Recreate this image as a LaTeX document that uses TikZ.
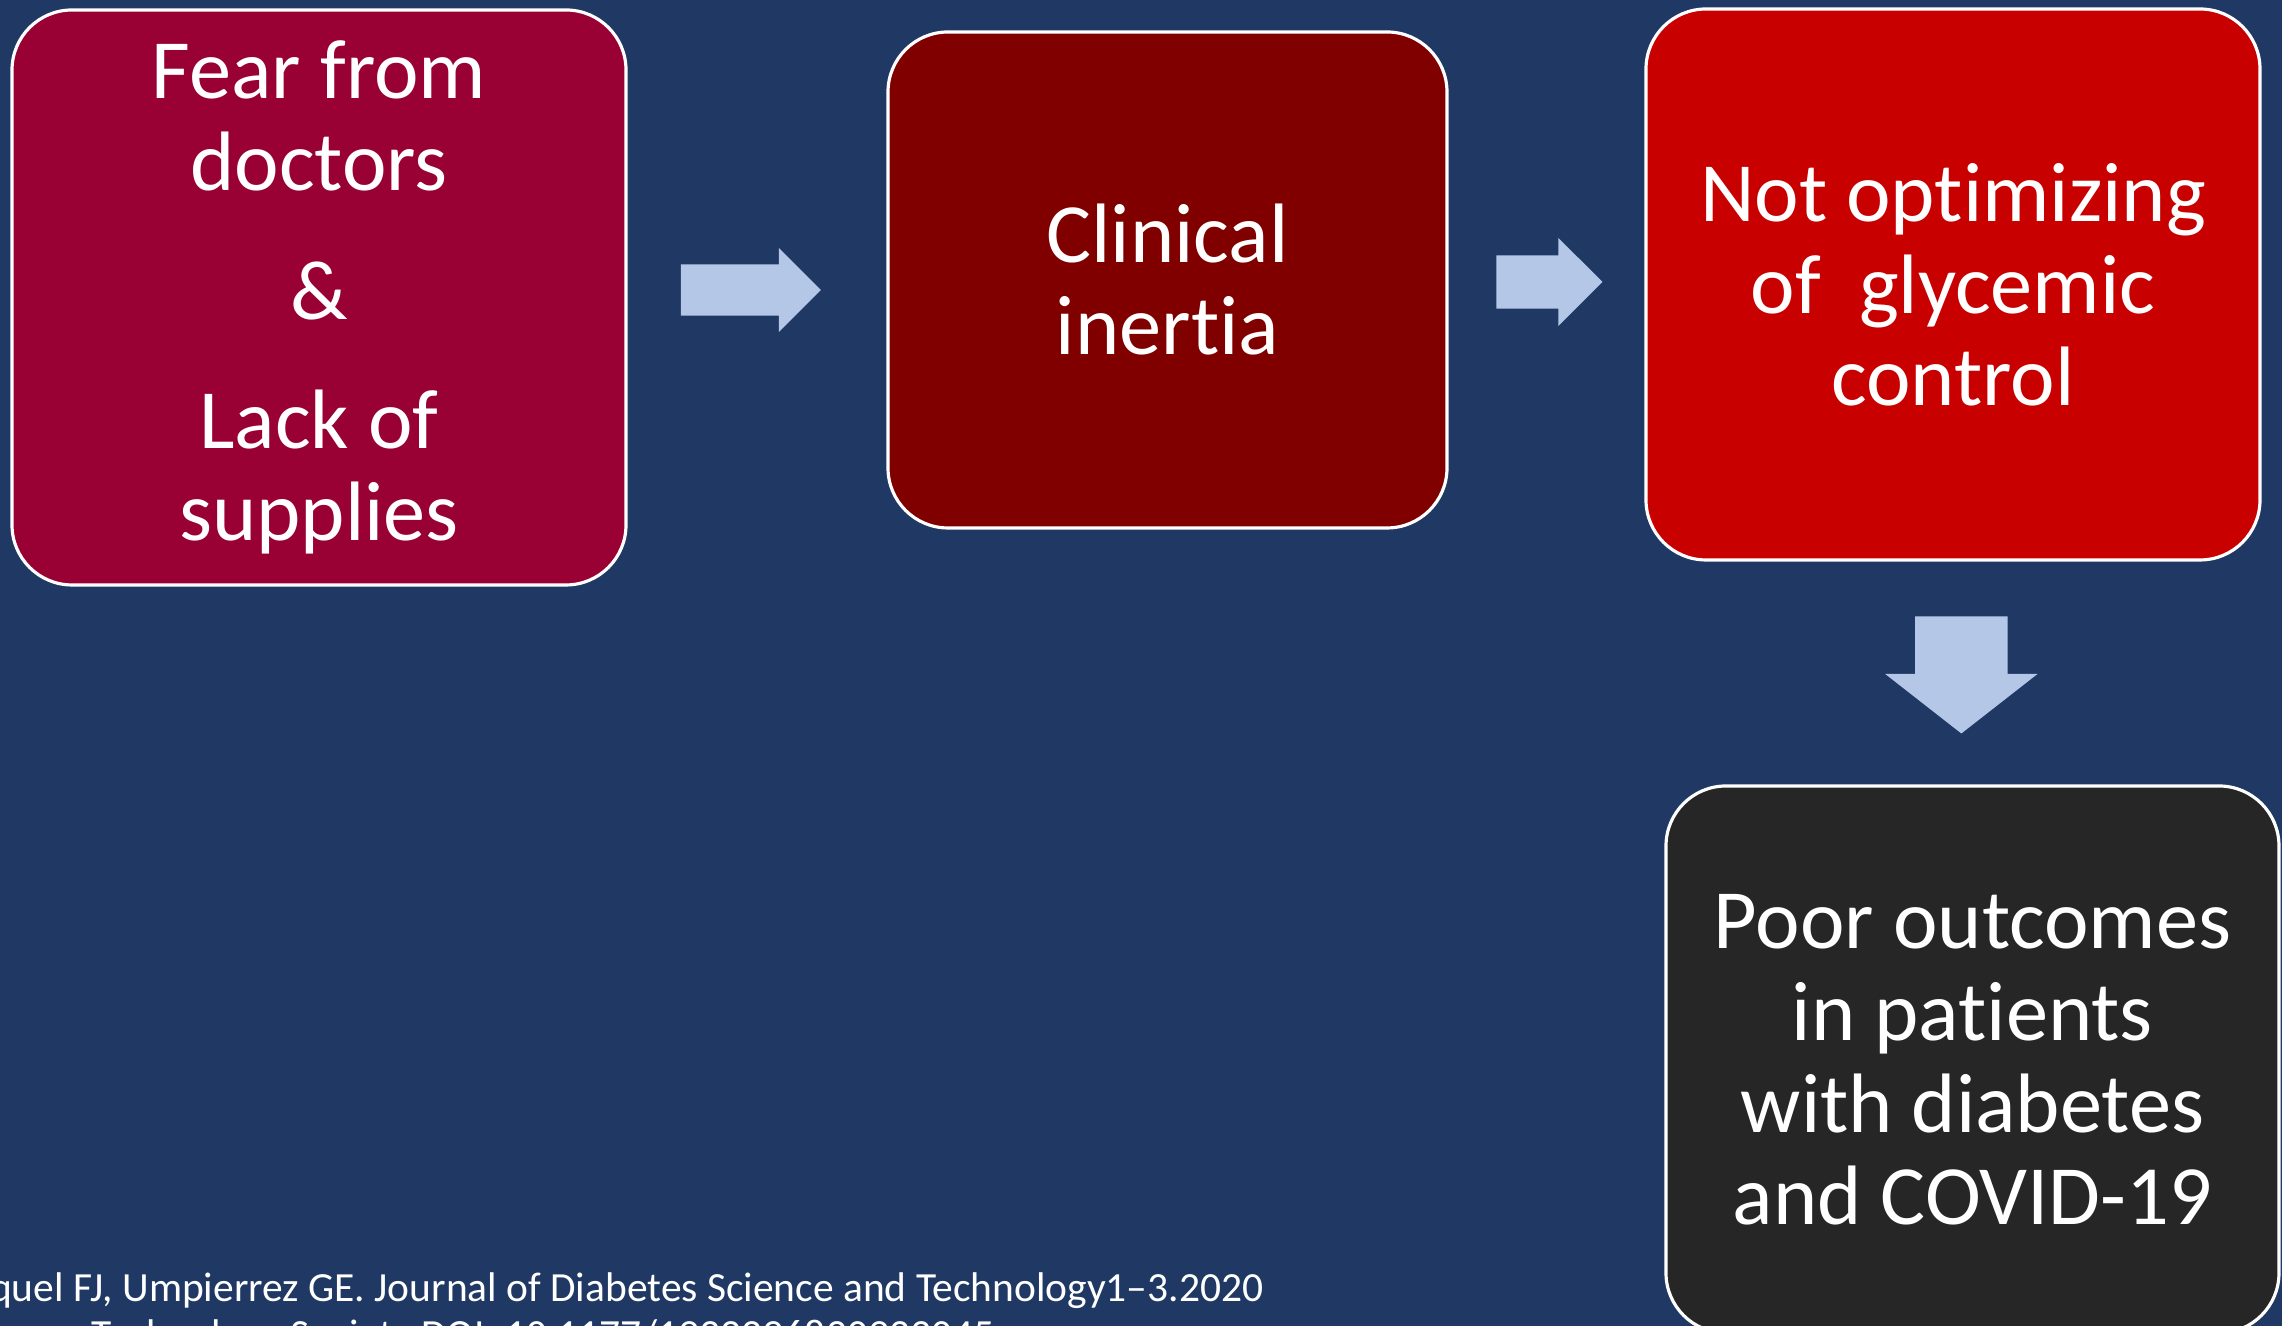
\documentclass[tikz,border=0pt]{standalone}
\usepackage{fontspec}
\setmainfont{Carlito}[Ligatures=NoCommon]
\usepackage{tikz}
\usetikzlibrary{shapes.arrows,positioning,calc}
\definecolor{slidebg}{RGB}{31,56,100}
\definecolor{crimson}{RGB}{153,0,51}
\definecolor{darkmaroon}{RGB}{128,0,0}
\definecolor{alarmred}{RGB}{200,0,0}
\definecolor{charcoal}{RGB}{38,38,38}
\definecolor{paleblue}{RGB}{180,199,231}
\tikzset{
  card/.style={draw=white, line width=0.9pt, rounded corners=0.6cm, text=white, align=center,
    inner sep=0pt, font=\fontsize{24}{26.2}\selectfont},
  blk/.style={single arrow, fill=paleblue, draw=none, inner xsep=0pt, single arrow head indent=0pt},
  cite/.style={text=white, inner sep=0pt, font=\fontsize{11.8}{14}\selectfont},
}

\begin{document}
\begin{tikzpicture}
  \useasboundingbox (0,0) rectangle (22.82,13.26);
  \fill[slidebg] (0,0) rectangle (22.82,13.26);
  % the four steps of the chain
  \node[card, fill=crimson, minimum width=6.14cm, minimum height=5.75cm] (fear) at (3.19,10.285)
    {Fear from\\doctors\\[0.37cm]\&\\[0.37cm]Lack of\\supplies};
  \node[card, fill=darkmaroon, minimum width=5.59cm, minimum height=4.96cm] (inertia) at (11.675,10.46)
    {Clinical\\inertia};
  \node[card, fill=alarmred, minimum width=6.14cm, minimum height=5.51cm] (glycemic) at (19.53,10.415)
    {Not optimizing\\of~ glycemic\\control};
  \node[card, fill=charcoal, minimum width=6.13cm, minimum height=5.47cm] (outcomes) at (19.725,2.665)
    {Poor outcomes\\in patients\\with diabetes\\and COVID-19};
  % block arrows between them
  \node[blk, minimum height=1.40cm, inner ysep=0.25cm, single arrow head extend=0.165cm] (a1)
    at ($(fear.east)!0.427!(inertia.west)$) {};
  \node[blk, minimum height=1.06cm, inner ysep=0.26cm, single arrow head extend=0.175cm] (a2)
    at ($(inertia.east)!0.447!(glycemic.west)$) {};
  \node[blk, rotate=-90, minimum height=1.17cm, inner ysep=0.455cm, single arrow head extend=0.30cm,
    single arrow tip angle=104] (a3)
    at ($(glycemic.south)!0.428!(outcomes.north)$) {};
  % reference at the foot
  \node[cite, anchor=base east] (ref1) at (12.64,0.24)
    {Pasquel FJ, Umpierrez GE. Journal of Diabetes Science and Technology1–3.2020};
  \node[cite, anchor=base west] (ref2) at (0.91,-0.23)
    {Technology Society DOI: 10.1177/1932296820923045};
\end{tikzpicture}
\end{document}
